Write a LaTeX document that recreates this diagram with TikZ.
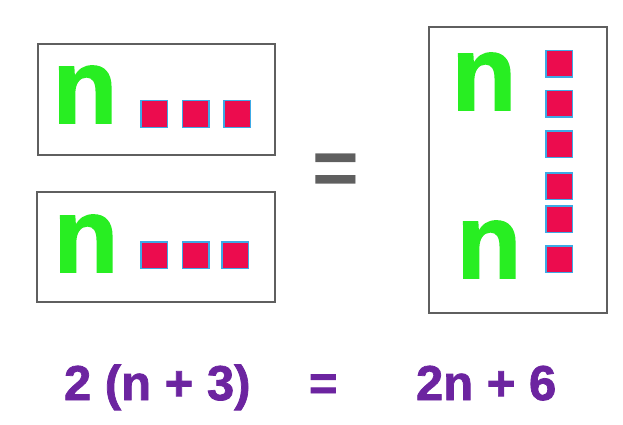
\documentclass[tikz,border=0pt]{standalone}
\usepackage{fontspec}
\setmainfont{Liberation Sans}
\newfontfamily\heavyfont{Liberation Sans}[BoldFeatures={FakeBold=1.5}]
\usetikzlibrary{%
	positioning,%
}
\definecolor{cgreen}{RGB}{40, 238, 34}
\definecolor{cred}{RGB}{236, 12, 78}
\definecolor{ccyan}{RGB}{60, 170, 230}
\definecolor{cgrey}{RGB}{95, 95, 95}
\definecolor{cpurple}{RGB}{108, 36, 160}
\tikzset{
	nodes={align=center, outer sep=0},%
	frame/.style={%
			draw=cgrey,%
			line width=1.6pt,%
			rectangle,%
			inner sep=0},%
	letter/.style={%
			text=cgreen,%
			font=\fontsize{106}{106}\heavyfont\bfseries,%
			inner sep=0,%
			anchor=south},%
	unitsq/.style={%
			fill=cred,%
			draw=ccyan,%
			line width=1.5pt,%
			rectangle,%
			inner sep=0,%
			minimum size=26.5pt},%
	formula/.style={%
			text=cpurple,%
			font=\fontsize{49}{49}\heavyfont\bfseries,%
			inner sep=0,%
			anchor=base west},%
}
\begin{document}
\begin{tikzpicture}[x=1pt, y=-1pt]%
	\useasboundingbox[fill=white] (0,0) rectangle (623,425);

	\node[frame, minimum width=237pt, minimum height=111pt] (top) at (156.5,99.5) {};
	\node[frame, minimum width=238pt, minimum height=110pt] (bot) at (156,247) {};
	\node[frame, minimum width=178pt, minimum height=286pt] (col) at (518,170) {};

	\node[letter] (nt) at (85,123) {n};
	\node[unitsq] (t1) at (154,114) {};
	\node[unitsq] (t2) [right=15pt of t1] {};
	\node[unitsq] (t3) [right=15pt of t2] {};

	\node[letter] (nb) at (86,272) {n};
	\node[unitsq] (b1) at (154,255) {};
	\node[unitsq] (b2) [right=15pt of b1] {};
	\node[unitsq] (b3) [right=13pt of b2] {};

	\node[letter] (nc1) at (484,110) {n};
	\node[letter] (nc2) at (489,278) {n};
	\node[unitsq] (c1) at (559,64) {};
	\node[unitsq] (c2) at (559,104) {};
	\node[unitsq] (c3) at (559,144) {};
	\node[unitsq] (c4) at (559,186) {};
	\node[unitsq] (c5) at (559,219) {};
	\node[unitsq] (c6) at (559,259) {};

	\node[text=cgrey, font=\fontsize{80}{80}\selectfont\bfseries, inner sep=0] (eq) at (336,175) {=};

	\node[formula] (lhs) at (64,400) {2 (n + 3)};
	\node[formula] (mid) at (309,400) {=};
	\node[formula] (rhs) at (416,400) {2n + 6};
\end{tikzpicture}
\end{document}
